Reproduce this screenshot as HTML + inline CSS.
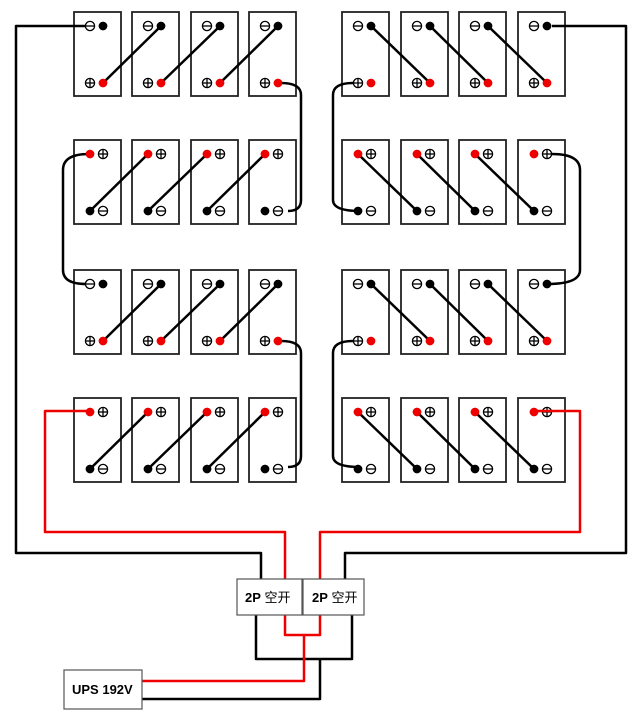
<!DOCTYPE html>
<html><head><meta charset="utf-8"><style>
html,body{margin:0;padding:0;background:#fff;width:640px;height:718px;overflow:hidden}
svg{display:block}
text{font-family:"Liberation Sans","Noto Sans CJK SC",sans-serif;font-size:13px;fill:#000}
</style></head><body>
<svg id="s" width="640" height="718" viewBox="0 0 640 718" xmlns="http://www.w3.org/2000/svg">
<g id="wires" fill="none" stroke-width="2.5" stroke-linejoin="round">
<polyline points="86,26 16,26 16,553 261,553 261,579" stroke="#000"/>
<polyline points="552,26 626,26 626,553 345,553 345,579" stroke="#000"/>
<polyline points="89,411 45,411 45,532 285,532 285,579" stroke="#e00"/>
<polyline points="536,411 580,411 580,532 320,532 320,579" stroke="#e00"/>
<polyline points="256,615 256,659 352,659 352,615" stroke="#000"/>
<polyline points="320,659 320,699 142,699" stroke="#000"/>
<polyline points="285,615 285,635 320,635 320,615" stroke="#e00"/>
<polyline points="304,635 304,681 142,681" stroke="#e00"/>
<path d="M281,83 Q301,83 301,95 L301,200 Q301,211 288,211" stroke="#000"/>
<path d="M89,154 Q63,154 63,170 L63,270 Q63,284 86,284" stroke="#000"/>
<path d="M281,341 Q301,341 301,353 L301,456 Q301,467 288,467" stroke="#000"/>
<path d="M353,83 Q333,83 333,95 L333,200 Q333,211 360,211" stroke="#000"/>
<path d="M552,154 Q580,154 580,170 L580,270 Q580,284 547,284" stroke="#000"/>
<path d="M353,341 Q333,341 333,353 L333,456 Q333,467 360,467" stroke="#000"/>
</g>
<g id="bats"></g>
<rect x="237" y="579" width="65" height="36" fill="#fff" stroke="#555" stroke-width="1.2"/>
<rect x="303" y="579" width="61" height="36" fill="#fff" stroke="#555" stroke-width="1.2"/>
<text x="245" y="602"><tspan font-weight="bold">2P</tspan> 空开</text>
<text x="312" y="602"><tspan font-weight="bold">2P</tspan> 空开</text>
<rect x="64" y="670" width="78" height="39" fill="#fff" stroke="#555" stroke-width="1.2"/>
<text x="72" y="694" font-weight="bold">UPS 192V</text>
</svg>
<script>
var NS="http://www.w3.org/2000/svg",g=document.getElementById('bats'),s=document.getElementById('s');
function el(t,a,p){var e=document.createElementNS(NS,t);for(var k in a)e.setAttribute(k,a[k]);(p||g).appendChild(e);return e;}
function sym(x,y,plus){el('circle',{cx:x,cy:y,r:4.6,fill:'#fff',stroke:'#000','stroke-width':1.3});
 el('line',{x1:x-4.6,y1:y,x2:x+4.6,y2:y,stroke:'#000','stroke-width':1.3});
 if(plus)el('line',{x1:x,y1:y-4.6,x2:x,y2:y+4.6,stroke:'#000','stroke-width':1.3});}
function dot(x,y,c){el('circle',{cx:x,cy:y,r:4.3,fill:c});}
var LX=[74,132,191,249],RX=[342,401,459,518],RY=[12,140,270,398];
function box(x,y,odd){
 el('rect',{x:x,y:y,width:47,height:84,fill:'#fff',stroke:'#222','stroke-width':1.8});
 var a=x+16,b=x+29,t=y+14,u=y+71;
 if(!odd){sym(a,t,false);dot(b,t,'#000');sym(a,u,true);dot(b,u,'#e00');}
 else{dot(a,t,'#e00');sym(b,t,true);dot(a,u,'#000');sym(b,u,false);}
}
var dg=el('g',{stroke:'#000','stroke-width':2.5,fill:'none'},s);
for(var r=0;r<4;r++){
 var y=RY[r],odd=r%2==1;
 for(var i=0;i<4;i++){box(LX[i],y,odd);box(RX[i],y,odd);}
}
for(var r=0;r<4;r++){
 var y=RY[r],odd=r%2==1,t=y+14,u=y+71;
 for(var i=0;i<3;i++){
  var xl=odd?LX[i+1]+16:LX[i+1]+29, xb=odd?LX[i]+16:LX[i]+29;
  el('line',{x1:xl,y1:t,x2:xb,y2:u,stroke:'#000','stroke-width':2.5},dg);
  var xr=odd?RX[i]+16:RX[i]+29, xr2=odd?RX[i+1]+16:RX[i+1]+29;
  el('line',{x1:xr,y1:t,x2:xr2,y2:u,stroke:'#000','stroke-width':2.5},dg);
 }
}
s.appendChild(document.getElementById('wires'));
s.appendChild(dg);
var dl=el('g',{},s);
for(var r=0;r<4;r++){var y=RY[r],odd=r%2==1,t=y+14,u=y+71;
 [LX,RX].forEach(function(X){X.forEach(function(x){
  if(!odd){el('circle',{cx:x+29,cy:t,r:4.3,fill:'#000'},dl);el('circle',{cx:x+29,cy:u,r:4.3,fill:'#e00'},dl);}
  else{el('circle',{cx:x+16,cy:t,r:4.3,fill:'#e00'},dl);el('circle',{cx:x+16,cy:u,r:4.3,fill:'#000'},dl);}
 });});}
Array.prototype.slice.call(s.querySelectorAll(':scope > rect, :scope > text')).forEach(function(e){s.appendChild(e);});
</script>
</body></html>
